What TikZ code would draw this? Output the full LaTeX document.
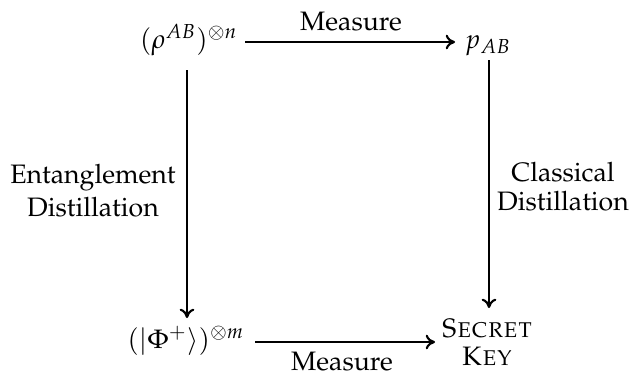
\documentclass[tikz,border=0pt]{standalone}
\usepackage[T1]{fontenc}
\usepackage{mathpazo}
\usetikzlibrary{calc,arrows.meta}
\begin{document}
\begin{tikzpicture}[x=0.375pt,y=-0.375pt,
  lbl/.style={inner sep=0pt,font=\fontsize{10}{12.4}\selectfont},
  obj/.style={inner sep=0pt,font=\fontsize{10}{12}\selectfont},
  arr/.style={line width=0.8pt,-{To[length=3.5pt,width=5.5pt]}}]
\useasboundingbox (0,0) rectangle (629,374);
\node[obj,anchor=base] (A) at (189,48) {$(\rho^{AB})^{\otimes n}$};
\node[obj,anchor=base] (B) at (488,48) {$p_{AB}$};
\node[obj,anchor=base] (C) at (186,348) {$(|\Phi^{+}\rangle)^{\otimes m}$};
\node[obj,align=center] (D) at (487,342.5) {\textsc{Secret}\\[-1.4pt]\textsc{Key}};
\node[lbl,anchor=base] (m1) at (351,30) {Measure};
\node[lbl,anchor=base] (m2) at (342,370) {Measure};
\node[lbl,align=center] (L) at (93,191) {Entanglement\\Distillation};
\node[lbl,align=center,font=\fontsize{10}{10.6}\selectfont] (R) at (563,186.5) {Classical\\Distillation};
\draw[arr] ($(A.base)+(56,-6)$) -- ($(B.base)+(-33,-6)$);
\draw[arr] ($(A.base)+(-2,22)$) -- ($(C.base)+(1,-30)$);
\draw[arr] ($(B.base)+(1,12)$) -- ($(D.center)+(2,-34.5)$);
\draw[arr] ($(C.base)+(69,-6)$) -- ($(D.center)+(-52,-0.5)$);
\end{tikzpicture}
\end{document}
